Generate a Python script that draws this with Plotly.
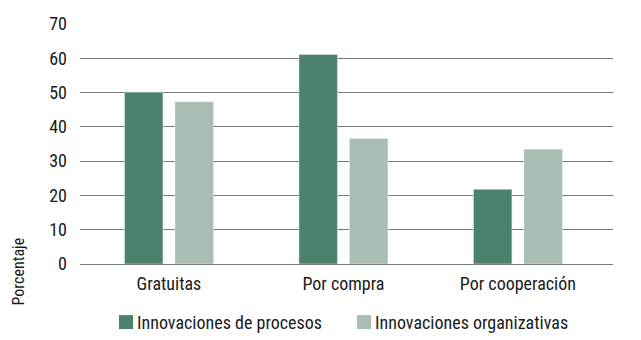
import plotly.graph_objects as go

categories = ["Gratuitas", "Por compra", "Por cooperación"]
procesos = [50.1, 61.1, 21.8]
organizativas = [47.3, 36.6, 33.5]
series_names = ["Innovaciones de procesos", "Innovaciones organizativas"]
colors = ["#4b826b", "#a8beb2"]
font_family = "Roboto Condensed, Liberation Sans Narrow, Arial Narrow, sans-serif"
text_color = "#1a1a1a"

fig = go.Figure()
fig.add_trace(go.Bar(x=categories, y=procesos, name=series_names[0], marker_color=colors[0]))
fig.add_trace(go.Bar(x=categories, y=organizativas, name=series_names[1], marker_color=colors[1]))

# custom legend (paper coordinates) to match the compact swatch/text spacing
legend_items = [
    dict(x0=0.0732, x1=0.0995, tx=0.1032, name=series_names[0], color=colors[0]),
    dict(x0=0.5197, x1=0.5460, tx=0.5497, name=series_names[1], color=colors[1]),
]
shapes = []
annotations = []
for it in legend_items:
    shapes.append(dict(type="rect", xref="paper", yref="paper", x0=it["x0"], x1=it["x1"],
                       y0=-0.271, y1=-0.213, fillcolor=it["color"], line=dict(width=0)))
    annotations.append(dict(text=it["name"], xref="paper", yref="paper", x=it["tx"], y=-0.243,
                            xanchor="left", yanchor="middle", showarrow=False,
                            font=dict(size=18, family=font_family, color=text_color)))
annotations.append(dict(text="Porcentaje", xref="paper", yref="paper", x=-0.1154, y=-0.029,
                        xanchor="center", yanchor="middle", textangle=-90, showarrow=False,
                        font=dict(size=16, family=font_family, color=text_color)))

fig.update_layout(
    width=641, height=340,
    margin=dict(l=80, r=28, t=24, b=76),
    paper_bgcolor="white", plot_bgcolor="white",
    barmode="group", bargap=0.421, bargroupgap=0.238,
    font=dict(family=font_family, size=17, color=text_color),
    showlegend=False,
    xaxis=dict(showgrid=False, showline=False, ticks="", tickfont=dict(size=18),
               range=[-0.51, 2.545], ticklabelstandoff=7),
    yaxis=dict(range=[0, 70], dtick=10, showgrid=True, gridcolor="#7a7a7a", gridwidth=1.2,
               zeroline=True, zerolinecolor="#7a7a7a", zerolinewidth=1.2,
               showline=False, ticks="", tickfont=dict(size=18), ticklabelstandoff=12),
    shapes=shapes,
    annotations=annotations,
)

fig.write_html("out.html")
